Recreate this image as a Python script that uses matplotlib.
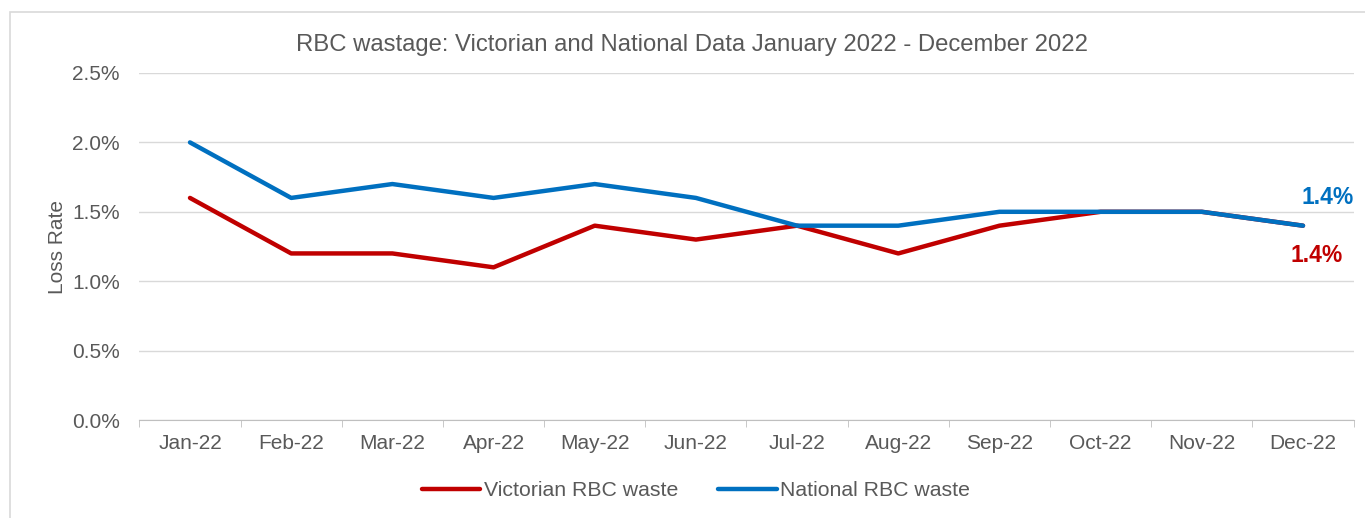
import matplotlib.pyplot as plt
from matplotlib.patches import Rectangle
from matplotlib.ticker import FuncFormatter, MultipleLocator
import numpy as np

months = ["Jan-22", "Feb-22", "Mar-22", "Apr-22", "May-22", "Jun-22",
          "Jul-22", "Aug-22", "Sep-22", "Oct-22", "Nov-22", "Dec-22"]
victorian = [1.6, 1.2, 1.2, 1.1, 1.4, 1.3, 1.4, 1.2, 1.4, 1.5, 1.5, 1.4]
national = [2.0, 1.6, 1.7, 1.6, 1.7, 1.6, 1.4, 1.4, 1.5, 1.5, 1.5, 1.4]

RED = "#C00000"
BLUE = "#0070C0"
GREY = "#595959"

plt.rcParams["font.family"] = ["Liberation Sans", "DejaVu Sans"]

fig = plt.figure(figsize=(13.65, 5.18), dpi=100)
W, H = 1365, 518
ax = fig.add_axes([139.4 / W, 1 - 420 / H, (1353.6 - 139.4) / W, (420 - 73) / H])

# chart frame (cut off on right/bottom like the original screenshot)
fig.patches.append(Rectangle((10 / W, -0.05), 1.2, 1 - 12 / H + 0.05,
                             transform=fig.transFigure, fill=False,
                             edgecolor="#d9d9d9", linewidth=1.2))

x = np.arange(len(months))
ax.plot(x, victorian, color=RED, linewidth=3.2, solid_capstyle="round",
        label="Victorian RBC waste")
ax.plot(x, national, color=BLUE, linewidth=3.2, solid_capstyle="round",
        label="National RBC waste")

ax.set_xlim(-0.5, len(months) - 0.5)
ax.set_ylim(0, 2.5)
ax.yaxis.set_major_locator(MultipleLocator(0.5))
ax.yaxis.set_major_formatter(FuncFormatter(lambda v, _: f"{v:.1f}%"))
ax.grid(axis="y", color="#d9d9d9", linewidth=1)
ax.set_axisbelow(True)

ax.set_xticks(x)
ax.set_xticklabels(months)
ax.set_xticks(np.arange(-0.5, len(months)), minor=True)
ax.tick_params(axis="x", which="major", length=0, pad=10, labelsize=15, labelcolor=GREY)
ax.tick_params(axis="x", which="minor", length=5, color="#bfbfbf")
ax.tick_params(axis="y", length=0, pad=14, labelsize=15, labelcolor=GREY)

for side in ["top", "right", "left"]:
    ax.spines[side].set_visible(False)
ax.spines["bottom"].set_color("#bfbfbf")

ax.set_ylabel("Loss Rate", color=GREY, fontsize=15, labelpad=4)
fig.text(692 / W, 1 - 45 / H,
         "RBC wastage: Victorian and National Data January 2022 - December 2022",
         color=GREY, fontsize=17.2, ha="center", va="center")

ax.annotate(f"{national[-1]:.1f}%", (x[-1], national[-1]), xytext=(17.5, 20.5),
            textcoords="offset points", color=BLUE, fontsize=16.5,
            fontweight="bold", ha="center", va="center")
ax.annotate(f"{victorian[-1]:.1f}%", (x[-1], victorian[-1]), xytext=(9.5, -21.5),
            textcoords="offset points", color=RED, fontsize=16.5,
            fontweight="bold", ha="center", va="center")

fig.legend(loc="center", bbox_to_anchor=(696 / W, 1 - 491 / H), ncol=2, frameon=False,
           fontsize=15.3, labelcolor=GREY, handlelength=2.75, handletextpad=0.15,
           columnspacing=1.9)

fig.savefig("out.png", dpi=100)
